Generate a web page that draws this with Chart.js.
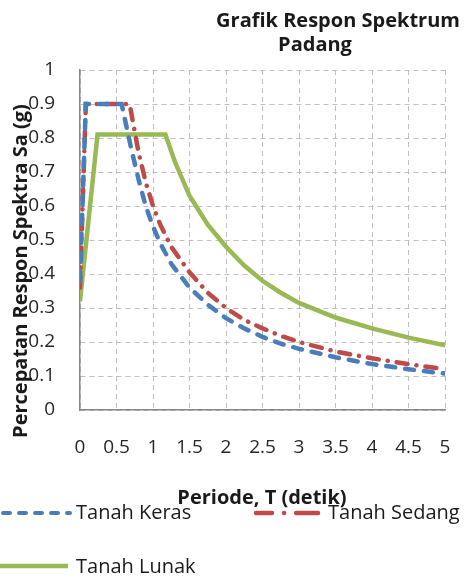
<!DOCTYPE html>
<html>
<head>
<meta charset="utf-8">
<script src="https://cdn.jsdelivr.net/npm/chart.js@4/dist/chart.umd.min.js"></script>
<style>
  body { margin: 0; background: #fff; }
  #wrap { position: relative; width: 469px; height: 577px; overflow: hidden; font-family: "Open Sans", sans-serif; color: #1a1a1a; }
  #chart { position: absolute; left: 0; top: 0; }
  .t { position: absolute; white-space: nowrap; line-height: 20px; }
  .bold { font-weight: bold; font-size: 20px; }
  .leg { position: absolute; font-size: 20px; line-height: 20px; white-space: nowrap; }
  svg.s { position: absolute; overflow: visible; }
</style>
</head>
<body>
<div id="wrap">
  <canvas id="chart" width="469" height="577"></canvas>
  <div class="t bold" style="left:338px; top:10px; transform:translateX(-50%);">Grafik Respon Spektrum</div>
  <div class="t bold" style="left:315px; top:34px; transform:translateX(-50%);">Padang</div>
  <div class="t bold" style="left:262px; top:487px; transform:translateX(-50%);">Periode, T (detik)</div>
  <div class="t bold" style="left:20px; top:271px; transform:translate(-50%,-50%) rotate(-90deg);">Percepatan Respon Spektra Sa (g)</div>

  <svg class="s" width="469" height="577" style="left:0;top:0;">
    <line x1="3" y1="513" x2="70" y2="513" stroke="#4a7ebb" stroke-width="4" stroke-linecap="round" stroke-dasharray="7 9"/>
    <line x1="256" y1="513" x2="318" y2="513" stroke="#be4b48" stroke-width="4.5" stroke-linecap="round" stroke-dasharray="16 12 0.1 12 22"/>
    <line x1="0" y1="566" x2="68" y2="566" stroke="#98b954" stroke-width="4.5"/>
  </svg>
  <div class="leg" style="left:76px; top:502px;">Tanah Keras</div>
  <div class="leg" style="left:328px; top:502px;">Tanah Sedang</div>
  <div class="leg" style="left:76px; top:556px;">Tanah Lunak</div>
</div>
<script>
// Tanah Keras
const kerasT  = [0, 0.08, 0.57, 0.7, 0.8, 0.9, 1, 1.1, 1.25, 1.5, 1.75, 2, 2.25, 2.5, 2.75, 3, 3.5, 4, 4.5, 5];
const kerasSa = [0.38, 0.9, 0.9, 0.77, 0.68, 0.6, 0.54, 0.49, 0.43, 0.36, 0.31, 0.27, 0.24, 0.215, 0.195, 0.18, 0.155, 0.135, 0.12, 0.107];
// Tanah Sedang
const sedangT  = [0, 0.08, 0.68, 0.8, 0.9, 1, 1.1, 1.25, 1.5, 1.75, 2, 2.25, 2.5, 2.75, 3, 3.5, 4, 4.5, 5];
const sedangSa = [0.36, 0.9, 0.9, 0.76, 0.67, 0.6, 0.545, 0.48, 0.405, 0.345, 0.3, 0.265, 0.24, 0.218, 0.2, 0.172, 0.152, 0.135, 0.12];
// Tanah Lunak
const lunakT  = [0, 0.24, 1.17, 1.3, 1.5, 1.75, 2, 2.25, 2.5, 2.75, 3, 3.5, 4, 4.5, 5];
const lunakSa = [0.32, 0.81, 0.81, 0.73, 0.63, 0.545, 0.48, 0.425, 0.38, 0.345, 0.315, 0.272, 0.24, 0.213, 0.19];

const seriesNames = ['Tanah Keras', 'Tanah Sedang', 'Tanah Lunak'];

function toPoints(ts, vals) {
    return ts.map((t, i) => ({ x: t, y: vals[i] }));
}

// Excel style labels: 1 instead of 1.0
const shortLabel = v => String(Number(v.toFixed(2)));

const tickFont = { family: 'Open Sans', size: 19 };
const tickColor = '#262626';

new Chart(document.getElementById('chart').getContext('2d'), {
    type: 'line',
    data: {
        datasets: [
            {
                label: seriesNames[0],
                data: toPoints(kerasT, kerasSa),
                borderColor: '#4a7ebb',
                borderWidth: 4.5,
                borderDash: [9, 10],
                borderCapStyle: 'round',
                pointRadius: 0,
                tension: 0
            },
            {
                label: seriesNames[1],
                data: toPoints(sedangT, sedangSa),
                borderColor: '#be4b48',
                borderWidth: 4.5,
                borderDash: [11, 9, 0.1, 9],
                borderCapStyle: 'round',
                pointRadius: 0,
                tension: 0
            },
            {
                label: seriesNames[2],
                data: toPoints(lunakT, lunakSa),
                borderColor: '#98b954',
                borderWidth: 4.5,
                pointRadius: 0,
                tension: 0
            }
        ]
    },
    options: {
        responsive: false,
        animation: false,
        layout: { padding: { top: 70, right: 0, left: 0, bottom: 0 } },
        plugins: {
            legend: { display: false },
            title: { display: false },
            tooltip: { enabled: false }
        },
        scales: {
            x: {
                type: 'linear',
                min: 0,
                max: 5,
                ticks: { stepSize: 0.5, color: tickColor, font: tickFont, padding: 26, maxRotation: 0, callback: shortLabel },
                grid: { color: '#bfbfbf', drawTicks: false },
                border: { color: '#868686', width: 1.5, dash: [5, 4] },
                afterFit: s => {
                    s.height = 167;
                    // keep the plot right edge where the reference has it
                    s.paddingRight = 24;
                    s.paddingLeft = 0;
                }
            },
            y: {
                min: 0,
                max: 1,
                ticks: { stepSize: 0.1, color: tickColor, font: tickFont, padding: 25, callback: shortLabel },
                grid: { color: '#bfbfbf', drawTicks: false },
                border: { color: '#868686', width: 1.5, dash: [5, 4] },
                afterFit: s => { s.width = 80; }
            }
        }
    }
});
</script>
</body>
</html>
